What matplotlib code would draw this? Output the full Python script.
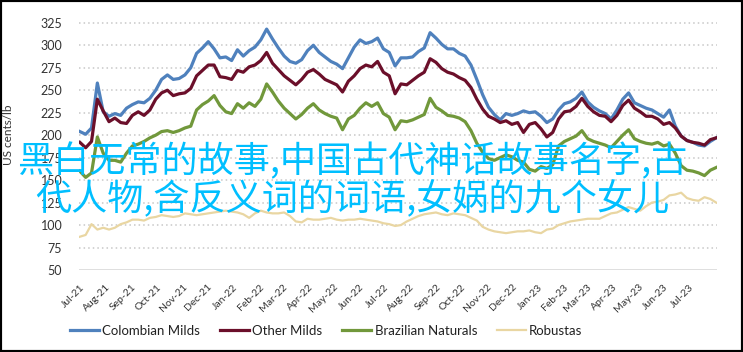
import matplotlib
matplotlib.use("Agg")
import matplotlib.pyplot as plt
import matplotlib.patches as mpatches
import pandas as pd

# ---------------- data ----------------
start_date = "2021-07-01"
n_weeks = 110

colombian_milds = [
    204, 201, 208, 258, 226, 221, 224, 222, 230, 234,
    237, 236, 241, 250, 262, 267, 262, 263, 267, 275,
    291, 297, 304, 296, 286, 287, 283, 295, 288, 294,
    298, 306, 318, 307, 297, 288, 282, 280, 284, 294,
    300, 292, 287, 282, 279, 274, 286, 298, 306, 302,
    304, 308, 296, 292, 277, 286, 286, 287, 293, 297,
    314, 308, 301, 296, 296, 291, 288, 278, 262, 245,
    231, 223, 217, 224, 222, 224, 227, 225, 226, 221,
    214, 218, 228, 235, 237, 241, 248, 237, 231, 227,
    224, 218, 228, 240, 247, 236, 233, 230, 228, 224,
    220, 228, 210, 199, 194, 192, 189, 188, 193, 197,
]

other_milds = [
    192, 186, 193, 240, 227, 215, 219, 214, 213, 222,
    226, 222, 228, 240, 247, 250, 244, 246, 247, 252,
    266, 272, 278, 278, 265, 264, 262, 272, 270, 276,
    278, 283, 292, 280, 273, 266, 261, 256, 262, 270,
    273, 268, 262, 259, 256, 248, 260, 266, 274, 278,
    276, 282, 270, 266, 246, 257, 256, 261, 266, 270,
    285, 281, 274, 270, 268, 264, 261, 253, 240, 229,
    221, 218, 214, 216, 212, 214, 203, 212, 214, 207,
    198, 203, 218, 226, 227, 232, 241, 232, 226, 222,
    221, 215, 222, 233, 239, 230, 226, 221, 221, 218,
    212, 214, 208, 199, 194, 192, 191, 189, 195, 197,
]

brazilian_naturals = [
    160, 153, 158, 198, 180, 172, 172, 170, 180, 188,
    190, 193, 197, 200, 204, 205, 203, 205, 208, 210,
    228, 234, 238, 244, 233, 226, 224, 235, 230, 236,
    232, 240, 257, 248, 238, 230, 224, 218, 223, 230,
    235, 228, 224, 221, 219, 206, 218, 222, 230, 236,
    232, 236, 224, 220, 206, 216, 215, 217, 220, 223,
    241, 231, 227, 222, 221, 219, 215, 205, 191, 181,
    174, 172, 175, 178, 176, 172, 170, 162, 160, 165,
    163, 167, 188, 193, 196, 199, 205, 196, 193, 191,
    189, 186, 193, 200, 206, 196, 193, 191, 190, 192,
    188, 190, 180, 166, 161, 160, 158, 155, 161, 164,
]

robustas = [
    87, 89, 101, 95, 97, 95, 97, 101, 103, 106,
    106, 105, 108, 109, 111, 110, 109, 110, 113, 112,
    111, 112, 113, 114, 115, 116, 115, 114, 112, 108,
    113, 116, 114, 113, 113, 114, 110, 104, 103, 107,
    106, 106, 107, 108, 106, 105, 106, 106, 107, 106,
    105, 104, 102, 101, 99, 100, 104, 107, 110, 112,
    113, 114, 112, 111, 113, 112, 111, 108, 105, 98,
    95, 93, 92, 91, 92, 93, 93, 94, 92, 91,
    95, 96, 100, 102, 104, 105, 106, 107, 107, 107,
    110, 113, 114, 117, 120, 118, 116, 121, 125, 126,
    128, 133, 134, 136, 130, 128, 127, 131, 129, 125,
]

series_names = ["Colombian Milds", "Other Milds", "Brazilian Naturals", "Robustas"]
series_colors = ["#4F81BD", "#6B0F2A", "#71983B", "#E9D6A2"]
series_widths = [2.3, 2.3, 2.3, 1.6]

month_tick_labels = [
    "Jul-21", "Aug-21", "Sep-21", "Oct-21", "Nov-21", "Dec-21", "Jan-22",
    "Feb-22", "Mar-22", "Apr-22", "May-22", "Jun-22", "Jul-22", "Aug-22",
    "Sep-22", "Oct-22", "Nov-22", "Dec-22", "Jan-23", "Feb-23", "Mar-23",
    "Apr-23", "May-23", "Jun-23", "Jul-23",
]
y_ticks = [50, 75, 100, 125, 150, 175, 200, 225, 250, 275, 300, 325]
y_label = "US cents/lb"
overlay_lines = [
    "黑白无常的故事,中国古代神话故事名字,古",
    "代人物,含反义词的词语,女娲的九个女儿",
]

# ---------------- plot ----------------
plt.rcParams["font.family"] = ["Lato", "DejaVu Sans"]

W, H = 743, 352
fig = plt.figure(figsize=(W / 100, H / 100), dpi=100)
ax = fig.add_axes([79 / W, 1 - 270 / H, (717 - 79) / W, (270 - 12) / H])

dates = pd.date_range(start_date, periods=n_weeks, freq="7D")
all_series = [colombian_milds, other_milds, brazilian_naturals, robustas]
for vals, name, col, lw in zip(all_series, series_names, series_colors, series_widths):
    ax.plot(dates, vals, color=col, lw=lw, label=name, solid_joinstyle="round")

tick_dates = pd.date_range(start_date, periods=len(month_tick_labels), freq="MS")
ax.set_xticks(tick_dates)
ax.set_xticklabels(month_tick_labels, rotation=45, ha="right", va="top",
                   rotation_mode="anchor", fontsize=7.5, color="#333333")
ax.set_xlim(dates[0] - pd.Timedelta(days=1), dates[-1] + pd.Timedelta(days=1))

ax.set_yticks(y_ticks)
ax.set_yticklabels([str(v) for v in y_ticks], fontsize=9, color="#333333")
ax.set_ylim(50, 337)
ax.tick_params(axis="both", length=0)
ax.tick_params(axis="y", pad=12)
ax.tick_params(axis="x", pad=9)

for s in ax.spines.values():
    s.set_visible(False)
for v in y_ticks[1:]:
    ax.axhline(v, color="#C8C8C8", lw=1.1, ls=(0, (1, 2)), zorder=0)
ax.axhline(50, color="#D9D9D9", lw=1.2, zorder=0)

fig.text(9 / W, 1 - 135 / H, y_label, rotation=90, ha="center", va="center",
         fontsize=8.5, color="#333333")

leg = fig.legend(loc="center left", bbox_to_anchor=(70 / W, 1 - 331 / H),
                 ncol=4, frameon=False, fontsize=9.5, handlelength=2.2,
                 handletextpad=0.25, columnspacing=1.5, borderpad=0,
                 borderaxespad=0)
for t in leg.get_texts():
    t.set_color("#222222")

for i, line in enumerate(overlay_lines):
    fig.text(352 / W, 1 - (161 + 38 * i) / H, line, ha="center", va="center",
             fontsize=26, color="#00BFFF",
             family=["Noto Sans CJK SC", "DejaVu Sans"])

fig.patches.append(mpatches.Rectangle((0, 0), 1, 1, transform=fig.transFigure,
                                      fill=False, edgecolor="black", lw=3))

fig.savefig("out.png", dpi=100)
